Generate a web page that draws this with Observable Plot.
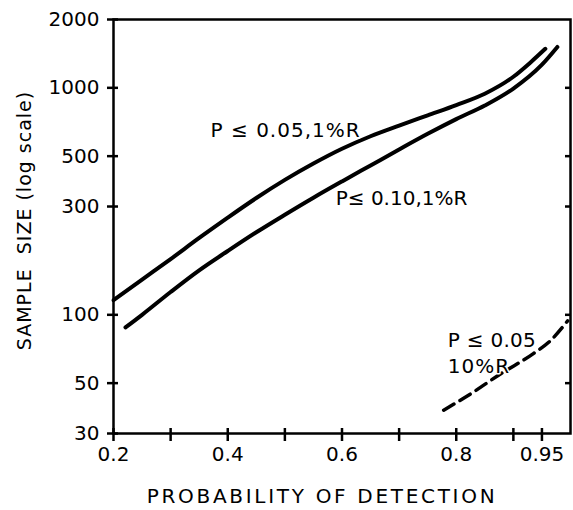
<!DOCTYPE html>
<html><head><meta charset="utf-8">
<script src="https://cdn.jsdelivr.net/npm/d3@7"></script>
<script src="https://cdn.jsdelivr.net/npm/@observablehq/plot@0.6"></script>
<style>
body{margin:0;background:#fff} svg{display:block}
</style>
</head><body><div id="chart"></div>
<script>
// Upper solid curve: P <= 0.05, 1%R
const upperProb = [0.2, 0.25, 0.3, 0.35, 0.4, 0.45, 0.5, 0.55, 0.6, 0.65, 0.7, 0.75, 0.8, 0.85, 0.9, 0.93, 0.956];
const upperSize = [116, 143, 176, 218, 268, 327, 393, 464, 539, 612, 682, 757, 840, 942, 1119, 1294, 1486];
// Lower solid curve: P <= 0.10, 1%R
const lowerProb = [0.221, 0.25, 0.3, 0.35, 0.4, 0.45, 0.5, 0.55, 0.6, 0.65, 0.7, 0.75, 0.8, 0.85, 0.9, 0.95, 0.977];
const lowerSize = [88, 100, 126, 157, 191, 231, 276, 328, 387, 455, 535, 627, 728, 836, 993, 1265, 1514];
// Dashed curve: P <= 0.05, 10%R
const dashedProb = [0.778, 0.82, 0.878, 0.935, 0.965, 0.995];
const dashedSize = [38, 44, 55, 67.5, 77, 94];

const xTickValues = [0.2, 0.3, 0.4, 0.5, 0.6, 0.7, 0.8, 0.9, 0.95];
const xLabelValues = [0.2, 0.4, 0.6, 0.8, 0.95];
const xTickLabels = ["0.2", "0.4", "0.6", "0.8", "0.95"];
const yTickValues = [30, 50, 100, 300, 500, 1000, 2000];
const yTickLabels = ["30", "50", "100", "300", "500", "1000", "2000"];
const yRightTicks = [50, 100, 300, 500, 1000];

const upperLabel = [{text: "P ≤ 0.05,1%R", x: 0.37, y: 650}];
const otherLabels = [
  {text: "P≤ 0.10,1%R", x: 0.589, y: 325},
  {text: "P ≤ 0.05", x: 0.785, y: 77},
  {text: "10%R", x: 0.785, y: 59}
];
const xTitle = "PROBABILITY OF DETECTION";
const yTitle = "SAMPLE  SIZE (log scale)";

const toRows = (xs, ys) => xs.map((x, i) => ({x, y: ys[i]}));

const chart = Plot.plot({
  width: 573, height: 510,
  marginLeft: 113, marginRight: 3, marginTop: 19, marginBottom: 77,
  style: {fontFamily: "DejaVu Sans", background: "#fff", color: "#000", overflow: "visible"},
  x: {domain: [0.2, 1.0]},
  y: {type: "log", domain: [30, 2000]},
  marks: [
    Plot.frame({stroke: "#000", strokeWidth: 2.5}),
    Plot.axisX(xTickValues, {tickSize: 13, dy: -5, tickFormat: () => "", strokeWidth: 2.5, label: null}),
    Plot.axisX(xLabelValues, {tickSize: 0, tickPadding: 13, tickFormat: d => xTickLabels[xLabelValues.indexOf(d)], fontSize: 20, label: null}),
    Plot.axisY(yTickValues, {anchor: "left", tickSize: 11, dx: 5, tickFormat: () => "", strokeWidth: 2.5, label: null}),
    Plot.axisY(yTickValues, {anchor: "left", tickSize: 0, tickPadding: 14, tickFormat: d => yTickLabels[yTickValues.indexOf(d)], fontSize: 20, label: null}),
    Plot.axisY(yRightTicks, {anchor: "right", tickSize: 6, dx: -6, tickFormat: () => "", strokeWidth: 2.5, label: null}),
    Plot.line(toRows(upperProb, upperSize), {x: "x", y: "y", stroke: "#000", strokeWidth: 4, curve: "monotone-x"}),
    Plot.line(toRows(lowerProb, lowerSize), {x: "x", y: "y", stroke: "#000", strokeWidth: 4, curve: "monotone-x"}),
    Plot.line(toRows(dashedProb, dashedSize), {x: "x", y: "y", stroke: "#000", strokeWidth: 3.5, strokeDasharray: "12,7", curve: "monotone-x"}),
    Plot.text(upperLabel, {x: "x", y: "y", text: "text", textAnchor: "start", fontSize: 20, fill: "#000", stroke: "#fff", strokeWidth: 3, paintOrder: "stroke"}),
    Plot.text(otherLabels, {x: "x", y: "y", text: "text", textAnchor: "start", fontSize: 20, fill: "#000", stroke: "#fff", strokeWidth: 3, paintOrder: "stroke"}),
    Plot.text([xTitle], {frameAnchor: "bottom", dy: 63, dx: -20, fontSize: 20, fill: "#000", lineAnchor: "middle"}),
    Plot.text([yTitle], {frameAnchor: "left", rotate: -90, dx: -89, dy: -6, textAnchor: "middle", fontSize: 19, fill: "#000", lineAnchor: "middle"})
  ]
});
const spacing = new Map([
  [xTitle, "2.7px"], [yTitle, "1px"], [upperLabel[0].text, "1px"],
  [otherLabels[1].text, "0.3px"], [otherLabels[2].text, "1px"]
]);
d3.select(chart).selectAll("text").each(function() {
  const s = spacing.get(this.textContent);
  if (s) this.setAttribute("letter-spacing", s);
});
document.getElementById("chart").append(chart);
</script>
</body></html>
